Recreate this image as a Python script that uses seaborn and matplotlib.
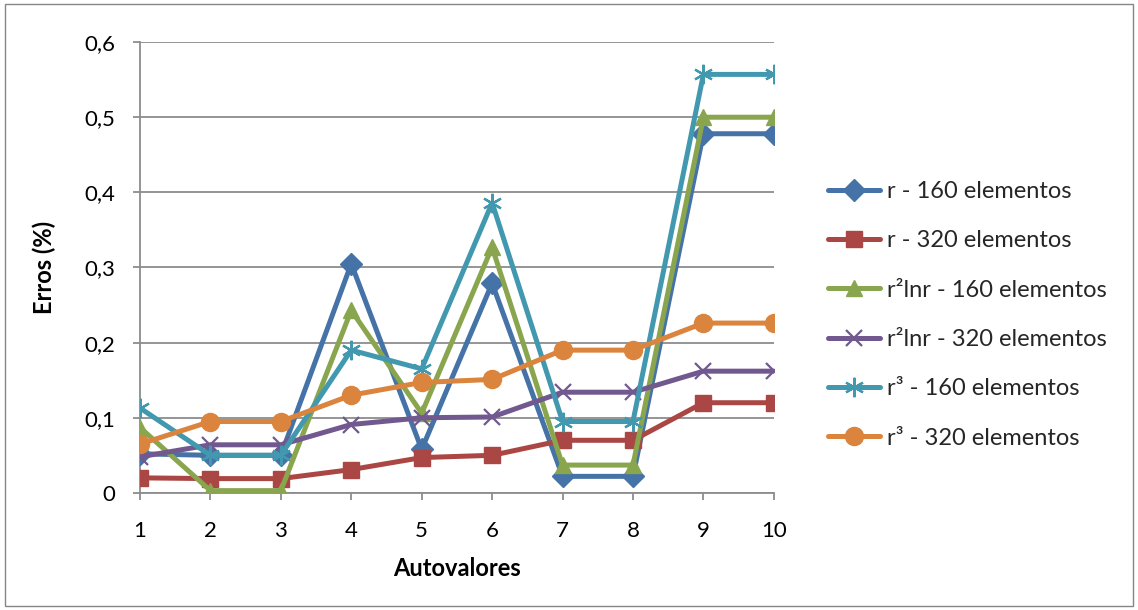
import matplotlib
matplotlib.use("Agg")
import matplotlib.pyplot as plt
from matplotlib.patches import Rectangle
from matplotlib.ticker import FuncFormatter
import seaborn as sns
import pandas as pd

autovalores = [1, 2, 3, 4, 5, 6, 7, 8, 9, 10]

r_160 = [0.052, 0.050, 0.050, 0.305, 0.058, 0.279, 0.022, 0.022, 0.478, 0.478]
r_320 = [0.020, 0.019, 0.019, 0.031, 0.047, 0.050, 0.070, 0.070, 0.120, 0.120]
r2lnr_160 = [0.087, 0.003, 0.003, 0.243, 0.106, 0.327, 0.037, 0.037, 0.500, 0.500]
r2lnr_320 = [0.048, 0.064, 0.064, 0.091, 0.100, 0.101, 0.134, 0.134, 0.162, 0.162]
r3_160 = [0.113, 0.050, 0.050, 0.190, 0.165, 0.386, 0.095, 0.095, 0.557, 0.557]
r3_320 = [0.065, 0.095, 0.095, 0.130, 0.147, 0.151, 0.190, 0.190, 0.226, 0.226]

series_names = [
    "r - 160 elementos",
    "r - 320 elementos",
    "r\u00b2lnr - 160 elementos",
    "r\u00b2lnr - 320 elementos",
    "r\u00b3 - 160 elementos",
    "r\u00b3 - 320 elementos",
]
series_values = [r_160, r_320, r2lnr_160, r2lnr_320, r3_160, r3_320]

colors = ["#4572A7", "#AA4643", "#89A54E", "#71588F", "#4198AF", "#DB843D"]
markers = ["D", "s", "^", "x", (6, 2, 0), "o"]
marker_sizes = [11, 12, 12, 12, 14, 13]

sns.set_theme(style="white")
plt.rcParams["font.family"] = ["Lato", "DejaVu Sans"]

fig = plt.figure(figsize=(11.38, 6.10), dpi=100)
ax = fig.add_axes([0.123, 0.192, 0.557, 0.739])

for name, vals, col, mk, ms in zip(series_names, series_values, colors, markers, marker_sizes):
    df = pd.DataFrame({"Autovalores": autovalores, "Erros": vals})
    unfilled = mk in ("x",) or isinstance(mk, tuple)
    sns.lineplot(
        data=df, x="Autovalores", y="Erros", ax=ax, color=col,
        linewidth=3.6, marker=mk, markersize=ms,
        markeredgecolor=col, markerfacecolor=col,
        markeredgewidth=1.6 if unfilled else 1.0,
        label=name, zorder=3,
    )

ax.set_xlim(1, 10)
ax.set_ylim(0, 0.6)
ax.set_xticks(autovalores)
ax.set_yticks([0, 0.1, 0.2, 0.3, 0.4, 0.5, 0.6])
ax.yaxis.set_major_formatter(FuncFormatter(lambda v, p: "0" if v == 0 else f"{v:.1f}".replace(".", ",")))
ax.grid(axis="y", color="#8c8c8c", linewidth=1.3)
ax.grid(axis="x", visible=False)
for s in ("top", "right"):
    ax.spines[s].set_visible(False)
for s in ("left", "bottom"):
    ax.spines[s].set_color("#8c8c8c")
    ax.spines[s].set_linewidth(1.3)
ax.tick_params(axis="both", which="major", length=5, width=1.3, color="#8c8c8c",
               labelsize=16, labelcolor="black", left=True, bottom=True, direction="out")
ax.tick_params(axis="x", pad=15)
ax.tick_params(axis="y", pad=13)

ax.set_xlabel("Autovalores", fontsize=17, fontweight="bold", color="black", labelpad=12)
ax.set_ylabel("Erros (%)", fontsize=17, fontweight="bold", color="black", labelpad=20)

ax.legend(loc="center left", bbox_to_anchor=(0.7276, 0.484), bbox_transform=fig.transFigure,
          frameon=False, fontsize=17, labelspacing=1.2, handlelength=2.2,
          handletextpad=0.3, borderaxespad=0, borderpad=0)

fig.patches.append(Rectangle((0.004, 0.006), 0.992, 0.988, transform=fig.transFigure,
                             fill=False, edgecolor="#868686", linewidth=1.0))

fig.savefig("out.png", dpi=100)
